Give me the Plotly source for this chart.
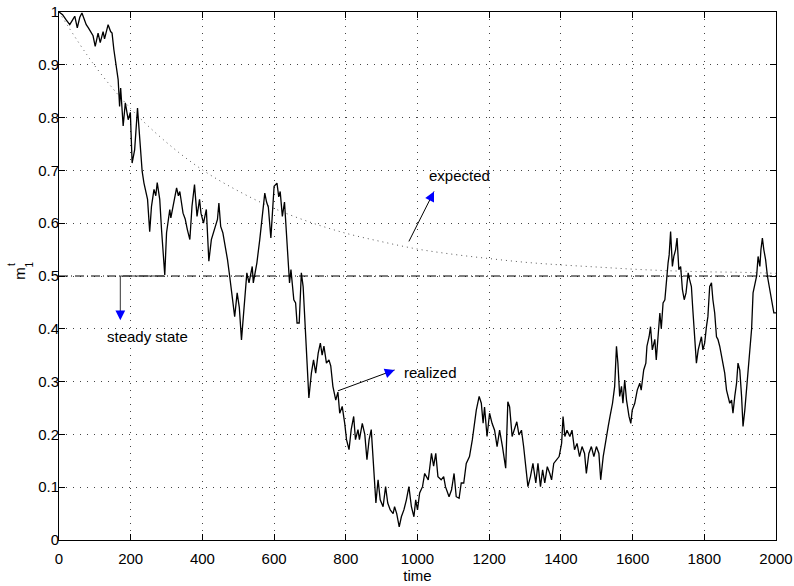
import plotly.graph_objects as go

# Realized path m_1^t sampled along time
time_pts = [0, 10, 20, 30, 38, 44, 51, 58, 64, 70, 76, 82, 88, 95, 101, 109, 115, 123, 127, 132,
            137, 144, 148, 153, 160, 165, 169, 172, 179, 185, 193, 199, 204, 211, 219, 225, 232, 237, 240, 247,
            253, 258, 265, 270, 274, 281, 286, 295, 300, 309, 312, 321, 328, 333, 337, 346, 352, 358, 365, 371,
            378, 385, 392, 396, 403, 411, 418, 425, 434, 442, 446, 451, 457, 464, 470, 476,
            485, 490, 497, 503, 509, 518, 524, 530, 539, 542, 552, 560, 569, 574, 579, 584, 591, 595, 600, 608,
            613, 617, 623, 629, 634, 639, 643, 647, 655, 660, 664, 670, 673, 676, 681, 686, 692, 697, 704, 710,
            716, 723, 729, 734, 739, 746, 753, 758, 764, 772, 778, 783, 790, 797, 802, 809, 815, 822, 827, 834,
            838, 846, 853, 859, 865, 871, 878, 884, 890, 896, 904, 911, 917, 924, 932, 936, 942, 949, 955, 962,
            969, 976, 983, 990, 995, 1000, 1006, 1014, 1020,
            1030, 1039, 1045, 1051, 1057, 1066, 1073, 1078, 1088, 1095, 1102, 1108, 1116, 1122, 1129, 1136, 1145, 1153, 1160, 1164,
            1172, 1178, 1183, 1187, 1194, 1201, 1208, 1215, 1222, 1229, 1237, 1246, 1252, 1257, 1264, 1270, 1277, 1283, 1290, 1296,
            1304, 1308, 1315, 1322, 1330, 1336, 1343, 1349, 1355, 1362, 1369, 1374, 1380, 1388, 1395, 1402, 1406, 1411, 1417, 1425,
            1431, 1438, 1445, 1452, 1459, 1466, 1471, 1478, 1485, 1492, 1499, 1506, 1511, 1518, 1525,
            1532, 1537, 1544, 1550, 1555, 1559, 1564, 1569, 1573, 1578, 1583, 1590, 1595, 1599, 1606, 1613, 1620, 1624, 1631, 1637,
            1640, 1646, 1650, 1655, 1662, 1666, 1671, 1676, 1680, 1685, 1690, 1694, 1699, 1702, 1706, 1711, 1715, 1720, 1724, 1729,
            1734, 1739, 1744, 1749, 1755, 1759, 1764, 1768, 1773, 1778, 1783, 1787, 1792, 1796, 1801, 1806, 1810, 1815, 1820, 1824,
            1829, 1834, 1838, 1843, 1848, 1852, 1857, 1862, 1866, 1871, 1876, 1880, 1885, 1890, 1894, 1899, 1904, 1908, 1913, 1918,
            1922, 1927, 1932, 1936, 1941, 1946, 1950, 1955, 1958, 1962, 1966, 1971, 1976, 1981, 1985, 1990, 1994, 2000]

realized = [1.0, 0.995, 0.985, 0.976, 0.985, 0.992, 0.970, 0.99, 0.998, 0.985, 0.976, 0.97, 0.963, 0.955, 0.935, 0.960, 0.942, 0.963, 0.949, 0.965,
            0.976, 0.963, 0.960, 0.929, 0.891, 0.872, 0.821, 0.856, 0.784, 0.828, 0.796, 0.81, 0.714, 0.739, 0.818, 0.758, 0.698, 0.676, 0.667, 0.645,
            0.584, 0.632, 0.664, 0.652, 0.677, 0.645, 0.588, 0.502, 0.582, 0.626, 0.61, 0.645, 0.667, 0.652, 0.66, 0.619, 0.608, 0.588, 0.569, 0.632,
            0.673, 0.613, 0.645, 0.619, 0.6, 0.626, 0.528, 0.569, 0.588, 0.607, 0.638, 0.594, 0.582, 0.556, 0.531, 0.5,
            0.455, 0.423, 0.468, 0.44, 0.379, 0.455, 0.506, 0.487, 0.518, 0.487, 0.525, 0.569, 0.632, 0.657, 0.64, 0.63, 0.572, 0.613, 0.67, 0.676,
            0.65, 0.66, 0.613, 0.64, 0.588, 0.518, 0.487, 0.512, 0.455, 0.449, 0.411, 0.411, 0.455, 0.506, 0.48, 0.404, 0.335, 0.269, 0.316, 0.341,
            0.316, 0.354, 0.373, 0.35, 0.367, 0.335, 0.341, 0.33, 0.291, 0.265, 0.28, 0.24, 0.253, 0.221, 0.19, 0.171, 0.209, 0.234, 0.19, 0.209,
            0.19, 0.221, 0.2, 0.152, 0.19, 0.209, 0.126, 0.07, 0.114, 0.076, 0.063, 0.101, 0.07, 0.057, 0.05, 0.063, 0.05, 0.025, 0.044, 0.057,
            0.076, 0.101, 0.063, 0.044, 0.076, 0.057, 0.089, 0.101, 0.126,
            0.114, 0.164, 0.14, 0.164, 0.12, 0.114, 0.12, 0.101, 0.082, 0.095, 0.126, 0.082, 0.079, 0.108, 0.108, 0.145, 0.158, 0.19, 0.221, 0.246,
            0.272, 0.259, 0.221, 0.252, 0.196, 0.24, 0.221, 0.208, 0.177, 0.208, 0.177, 0.136, 0.262, 0.252, 0.196, 0.208, 0.224, 0.199, 0.208, 0.177,
            0.133, 0.101, 0.12, 0.145, 0.108, 0.145, 0.101, 0.133, 0.108, 0.139, 0.126, 0.114, 0.145, 0.152, 0.158, 0.183, 0.234, 0.196, 0.208, 0.196,
            0.208, 0.171, 0.183, 0.158, 0.177, 0.164, 0.126, 0.164, 0.177, 0.158, 0.177, 0.164, 0.114, 0.158, 0.19,
            0.215, 0.234, 0.259, 0.291, 0.367, 0.335, 0.272, 0.291, 0.259, 0.303, 0.265, 0.234, 0.221, 0.246, 0.259, 0.284, 0.297, 0.284, 0.322, 0.335,
            0.367, 0.385, 0.404, 0.36, 0.38, 0.341, 0.385, 0.43, 0.40, 0.449, 0.455, 0.493, 0.525, 0.54, 0.584, 0.518, 0.537, 0.55, 0.572, 0.512,
            0.518, 0.474, 0.455, 0.468, 0.506, 0.493, 0.48, 0.436, 0.373, 0.335, 0.36, 0.373, 0.385, 0.36, 0.373, 0.404, 0.423, 0.48, 0.487, 0.455,
            0.43, 0.385, 0.38, 0.367, 0.348, 0.335, 0.316, 0.284, 0.272, 0.259, 0.265, 0.24, 0.272, 0.297, 0.335, 0.322, 0.272, 0.215, 0.246, 0.284,
            0.322, 0.348, 0.40, 0.468, 0.487, 0.50, 0.537, 0.518, 0.55, 0.572, 0.55, 0.531, 0.50, 0.48, 0.468, 0.449, 0.43, 0.43]

# Expected path
exp_t = [0, 100, 200, 300, 400, 500, 600, 700, 800, 900, 1000,
         1100, 1200, 1300, 1400, 1500, 1600, 1700, 1800, 1900, 2000]
expected = [1.0, 0.898, 0.817, 0.753, 0.701, 0.661, 0.628, 0.602, 0.581, 0.565, 0.551,
            0.541, 0.533, 0.526, 0.521, 0.517, 0.513, 0.510, 0.508, 0.507, 0.505]

# Steady state level
steady_t = [0, 2000]
steady = [0.5, 0.5]

x_ticks = [0, 200, 400, 600, 800, 1000, 1200, 1400, 1600, 1800, 2000]
y_ticks = [0, 0.1, 0.2, 0.3, 0.4, 0.5, 0.6, 0.7, 0.8, 0.9, 1]

FONT = "Liberation Sans, Arial, Helvetica, sans-serif"

fig = go.Figure()
fig.add_trace(go.Scatter(x=exp_t, y=expected, mode="lines", line_shape="spline",
                         line=dict(color="#555555", width=1, dash="1px,4px"), hoverinfo="skip"))
fig.add_trace(go.Scatter(x=steady_t, y=steady, mode="lines",
                         line=dict(color="black", width=1, dash="9px,3px,1px,3px"), hoverinfo="skip"))
fig.add_trace(go.Scatter(x=time_pts, y=realized, mode="lines",
                         line=dict(color="black", width=1.3), hoverinfo="skip"))

# arrow shafts (tail -> tip), blue heads added as annotations
arrows = [
    # (tail_x, tail_y, tip_x, tip_y, head_ax, head_ay)
    (976, 0.5655, 1046, 0.660, -4.9, 9.8),
    (778, 0.2825, 936, 0.322, -10.3, 3.8),
]
shapes = []
for tx, ty, hx, hy, _, _ in arrows:
    shapes.append(dict(type="line", xref="x", yref="y", x0=tx, y0=ty, x1=hx, y1=hy,
                       line=dict(color="black", width=1)))
shapes.append(dict(type="path", xref="x", yref="y",
                   path="M 295 0.5 L 171 0.5 L 171 0.425",
                   line=dict(color="#333333", width=1)))

annotations = []
for tx, ty, hx, hy, ax, ay in arrows:
    annotations.append(dict(x=hx, y=hy, xref="x", yref="y", text="", showarrow=True,
                            ax=ax, ay=ay, arrowhead=2, arrowsize=1.3, arrowwidth=1.5,
                            arrowcolor="blue", standoff=0, startstandoff=0))
annotations.append(dict(x=171, y=0.416, xref="x", yref="y", text="", showarrow=True,
                        ax=0, ay=-11, arrowhead=2, arrowsize=1.3, arrowwidth=1.5,
                        arrowcolor="blue", standoff=0, startstandoff=0))

for txt, x, y in [("expected", 1118, 0.69), ("realized", 1036, 0.3175), ("steady state", 247, 0.386)]:
    annotations.append(dict(x=x, y=y, xref="x", yref="y", text=txt, showarrow=False,
                            font=dict(family=FONT, size=15, color="black")))

# y-axis label m_1^t, rotated, with stacked sub/superscript
for txt, px, py, size in [("m", -0.0544, 0.506, 15), ("t", -0.0662, 0.522, 10), ("1", -0.0418, 0.522, 10)]:
    annotations.append(dict(x=px, y=py, xref="paper", yref="paper", text=txt, textangle=-90,
                            xanchor="center", yanchor="middle", showarrow=False,
                            font=dict(family=FONT, size=size, color="black")))

axis_common = dict(showline=True, linecolor="black", linewidth=1, mirror="ticks",
                   ticks="inside", ticklen=6, tickcolor="black", tickwidth=1,
                   showgrid=True, gridcolor="#444444", gridwidth=1, griddash="1px,6px",
                   zeroline=False, automargin=False,
                   tickfont=dict(family=FONT, size=15, color="black"))

fig.update_layout(
    width=794, height=586,
    margin=dict(l=59, r=18, t=12, b=46),
    paper_bgcolor="white", plot_bgcolor="white",
    showlegend=False,
    shapes=shapes, annotations=annotations,
    xaxis=dict(range=[0, 2000], tickvals=x_ticks, ticklabelstandoff=5,
               title=dict(text="time", font=dict(family=FONT, size=15, color="black"), standoff=4),
               **axis_common),
    yaxis=dict(range=[0, 1], tickvals=y_ticks, ticklabelstandoff=-4, **axis_common),
)

fig.write_html("out.html")
